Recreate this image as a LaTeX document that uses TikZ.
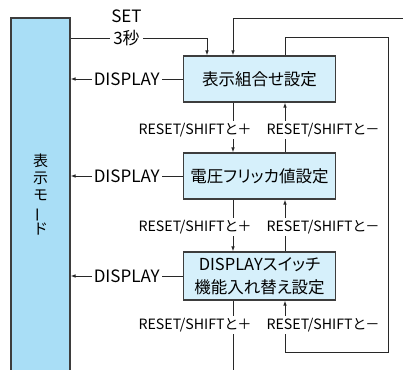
\documentclass[tikz,border=0pt]{standalone}
\usepackage{fontspec}
\setmainfont{Noto Sans CJK JP}
\newfontfamily\jp[RawFeature=+palt]{Noto Sans CJK JP}
\newfontfamily\jpv{Noto Sans CJK JP}
\usetikzlibrary{arrows.meta}
\definecolor{boxfill}{RGB}{214,240,251}
\definecolor{modefill}{RGB}{169,222,246}
\definecolor{linec}{RGB}{40,40,40}
\begin{document}
\begin{tikzpicture}[x=1pt,y=-1pt,
  line/.style={draw=linec, line width=0.9pt},
  arr/.style={line, -{Latex[length=5pt,width=3.6pt]}},
  box/.style={draw=linec!90, line width=1.1pt, fill=boxfill, minimum width=152pt,
    minimum height=46pt, inner sep=0pt, align=center,
    font=\jp\fontsize{16.5}{23}\selectfont},
  modebox/.style={draw=linec!90, line width=1.1pt, fill=modefill, minimum width=59pt,
    minimum height=354pt, inner sep=0pt, align=center,
    font=\jpv\fontsize{15}{17}\selectfont},
  lab/.style={fill=white, inner sep=2.5pt, font=\fontsize{14.2}{17}\selectfont},
  dlab/.style={fill=white, inner sep=2pt, font=\fontsize{17}{20}\selectfont}]
\useasboundingbox (0,0) rectangle (403,369);
% boxes
\node[modebox] (mode) at (40.5,195) {表\\示\\モ\\\rotatebox[origin=c]{90}{ー}\\ド};
\node[box] (b1) at (259.5,79) {表示組合せ設定};
\node[box] (b2) at (259.5,176) {電圧フリッカ値設定};
\node[box, minimum height=48pt] (b3) at (259.5,276) {{\fontsize{16.5}{23}\selectfont DISPLAY}スイッチ\\機能入れ替え設定};
% coordinates
\coordinate (setc) at (207,38);
\coordinate (intop) at (405,18);
\coordinate (lt) at (388,37);
\coordinate (lb) at (388,352);
\coordinate (outbot) at (233,372);
% SET 3s
\draw[arr] (setc -| mode.east) -- node[pos=0.41, dlab, inner sep=3pt] (sec) {3秒} (setc) -- (setc |- b1.north);
\node[font=\fontsize{17}{20}\selectfont] (set) at (126.5,16) {SET};
% incoming from top
\draw[arr] (intop) -| ([xshift=-26.5pt]b1.north);
% DISPLAY arrows
\draw[arr] (b1.west) -- node[dlab] (d1) {DISPLAY} (b1.west -| mode.east);
\draw[arr] (b2.west) -- node[dlab] (d2) {DISPLAY} (b2.west -| mode.east);
\draw[arr] (b3.west) -- node[dlab] (d3) {DISPLAY} (b3.west -| mode.east);
% down arrows
\draw[arr] ([xshift=-26.5pt]b1.south) -- ([xshift=-26.5pt]b2.north);
\draw[arr] ([xshift=-26.5pt]b2.south) -- ([xshift=-26.5pt]b3.north);
\draw[line] ([xshift=-26.5pt]b3.south) -- (outbot);
% up arrows
\draw[arr] ([xshift=25.5pt]b2.north) -- ([xshift=25.5pt]b1.south);
\draw[arr] ([xshift=25.5pt]b3.north) -- ([xshift=25.5pt]b2.south);
\draw[arr] ([xshift=25.5pt]b1.north) |- (lt) -- (lb) -| ([xshift=25.5pt]b3.south);
% labels
\node[lab] (p1) at (195,130) {RESET/SHIFT{\jp と＋}};
\node[lab] (m1) at (323,130) {RESET/SHIFT{\jp と－}};
\node[lab] (p2) at (195,227) {RESET/SHIFT{\jp と＋}};
\node[lab] (m2) at (323,227) {RESET/SHIFT{\jp と－}};
\node[lab] (p3) at (195,325) {RESET/SHIFT{\jp と＋}};
\node[lab] (m3) at (323,325) {RESET/SHIFT{\jp と－}};
\end{tikzpicture}
\end{document}
